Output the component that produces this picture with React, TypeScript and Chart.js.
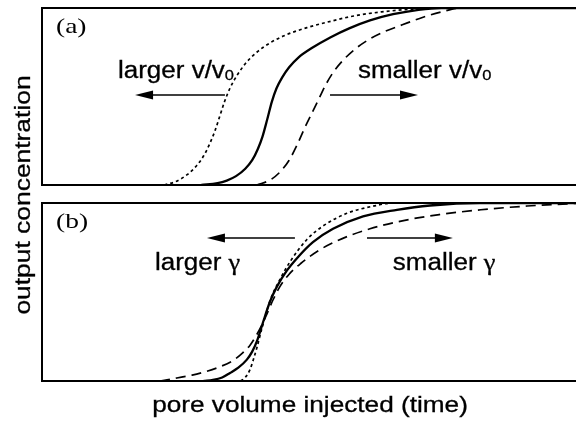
import { useEffect, useRef } from "react";
import { Chart, registerables } from "chart.js";

Chart.register(...registerables);

// pore volume injected (normalised time) and output concentration (normalised)
const X_MAX = 2.312;

// panel (a): varying v/v0
const aLargerX = [0.53, 0.58, 0.63, 0.67, 0.7, 0.725, 0.75, 0.77, 0.79, 0.815, 0.845, 0.88, 0.93, 0.99, 1.06, 1.15, 1.25, 1.35, 1.47, 1.6, 1.72, 2.312];
const aLargerY = [0, 0.02, 0.06, 0.11, 0.165, 0.23, 0.31, 0.39, 0.47, 0.55, 0.62, 0.685, 0.75, 0.805, 0.85, 0.89, 0.925, 0.955, 0.978, 0.993, 1.0, 1.0];
const aBaseX = [0.69, 0.76, 0.8, 0.84, 0.88, 0.91, 0.935, 0.955, 0.975, 0.995, 1.015, 1.04, 1.07, 1.11, 1.17, 1.25, 1.33, 1.42, 1.52, 1.63, 1.73, 2.312];
const aBaseY = [0, 0.01, 0.025, 0.05, 0.092, 0.14, 0.205, 0.275, 0.37, 0.47, 0.545, 0.608, 0.665, 0.72, 0.775, 0.835, 0.885, 0.93, 0.965, 0.99, 1.0, 1.0];
const aSmallerX = [0.93, 0.99, 1.03, 1.07, 1.104, 1.14, 1.17, 1.2, 1.23, 1.26, 1.3, 1.35, 1.41, 1.48, 1.56, 1.65, 1.73, 1.81, 2.312];
const aSmallerY = [0, 0.03, 0.073, 0.14, 0.225, 0.33, 0.41, 0.49, 0.57, 0.635, 0.7, 0.762, 0.818, 0.865, 0.905, 0.948, 0.978, 1.0, 1.0];

// panel (b): varying gamma
const bLargerX = [0.86, 0.88, 0.9, 0.915, 0.931, 0.952, 0.987, 1.03, 1.074, 1.147, 1.216, 1.32, 1.433, 1.52, 2.312];
const bLargerY = [0, 0.02, 0.062, 0.12, 0.19, 0.295, 0.45, 0.57, 0.67, 0.795, 0.87, 0.942, 0.982, 1.0, 1.0];
const bBaseX = [0.7, 0.74, 0.78, 0.814, 0.85, 0.887, 0.91, 0.931, 0.957, 0.987, 1.017, 1.06, 1.104, 1.173, 1.26, 1.39, 1.537, 1.68, 1.896, 2.312];
const bBaseY = [0, 0.006, 0.02, 0.045, 0.075, 0.12, 0.165, 0.225, 0.33, 0.445, 0.53, 0.62, 0.69, 0.78, 0.855, 0.925, 0.962, 0.986, 1.0, 1.0];
const bSmallerX = [0.511, 0.584, 0.65, 0.714, 0.77, 0.827, 0.87, 0.9, 0.925, 0.95, 0.975, 1.0, 1.03, 1.07, 1.12, 1.2, 1.3, 1.42, 1.56, 1.72, 1.9, 2.1, 2.312];
const bSmallerY = [0, 0.017, 0.033, 0.055, 0.08, 0.115, 0.16, 0.2, 0.25, 0.31, 0.38, 0.455, 0.53, 0.6, 0.66, 0.735, 0.8, 0.855, 0.9, 0.935, 0.962, 0.983, 0.998];

const zip = (xs: number[], ys: number[]) => xs.map((x, i) => ({ x, y: ys[i] }));

const SANS = '"Liberation Sans", Arial, sans-serif';
const SERIF = '"Liberation Serif", "Times New Roman", serif';

type Note = {
  panel: string;
  leftText: string; leftSub: string; rightText: string; rightSub: string; greek: boolean;
  leftTextX: number; rightTextX: number; textY: number;
  leftArrow: [number, number]; rightArrow: [number, number]; arrowY: number;
};

const notesA: Note = {
  panel: "(a)", leftText: "larger v/v", leftSub: "0", rightText: "smaller v/v", rightSub: "0", greek: false,
  leftTextX: 0.329, rightTextX: 1.368, textY: 0.605,
  leftArrow: [0.403, 0.792], rightArrow: [1.247, 1.628], arrowY: 0.508,
};
const notesB: Note = {
  panel: "(b)", leftText: "larger ", leftSub: "γ", rightText: "smaller ", rightSub: "γ", greek: true,
  leftTextX: 0.489, rightTextX: 1.519, textY: 0.624,
  leftArrow: [0.714, 1.095], rightArrow: [1.407, 1.779], arrowY: 0.803,
};

function stretchedText(ctx: CanvasRenderingContext2D, text: string, x: number, y: number, font: string, sx: number, weight = 0.3) {
  ctx.save();
  ctx.translate(x, y);
  ctx.scale(sx, 1);
  ctx.font = font;
  ctx.fillText(text, 0, 0);
  if (weight > 0) {
    ctx.lineWidth = weight;
    ctx.strokeStyle = "#000";
    ctx.strokeText(text, 0, 0);
  }
  const w = ctx.measureText(text).width * sx;
  ctx.restore();
  return w;
}

function arrow(ctx: CanvasRenderingContext2D, x0: number, x1: number, y: number, headLeft: boolean) {
  const hl = 18, hw = 4.5;
  ctx.save();
  ctx.strokeStyle = "#000";
  ctx.fillStyle = "#000";
  ctx.lineWidth = 1.5;
  ctx.beginPath();
  if (headLeft) {
    ctx.moveTo(x0 + hl - 2, y); ctx.lineTo(x1, y);
  } else {
    ctx.moveTo(x0, y); ctx.lineTo(x1 - hl + 2, y);
  }
  ctx.stroke();
  ctx.beginPath();
  if (headLeft) {
    ctx.moveTo(x0, y); ctx.lineTo(x0 + hl, y - hw); ctx.lineTo(x0 + hl, y + hw);
  } else {
    ctx.moveTo(x1, y); ctx.lineTo(x1 - hl, y - hw); ctx.lineTo(x1 - hl, y + hw);
  }
  ctx.closePath();
  ctx.fill();
  ctx.restore();
}

function makePlugin(note: Note, drawTitles: boolean) {
  return {
    id: "panelDecor",
    afterDraw(chart: any) {
      const ctx: CanvasRenderingContext2D = chart.ctx;
      const { left, top, right, bottom } = chart.chartArea;
      const xs = chart.scales.x, ys = chart.scales.y;
      ctx.save();
      // frame
      ctx.strokeStyle = "#000";
      ctx.lineWidth = 2;
      ctx.beginPath();
      ctx.moveTo(right + 2, top); ctx.lineTo(left, top); ctx.lineTo(left, bottom); ctx.lineTo(right + 2, bottom);
      ctx.stroke();
      ctx.fillStyle = "#000";
      ctx.textAlign = "left";
      ctx.textBaseline = "alphabetic";
      // panel label
      stretchedText(ctx, note.panel, left + 14, top + 25, `22px ${SERIF}`, 1.25, 0);
      // annotations
      const ty = ys.getPixelForValue(note.textY);
      const drawLabel = (txt: string, sub: string, xv: number) => {
        const x = xs.getPixelForValue(xv);
        const w = stretchedText(ctx, txt, x, ty, `23px ${SANS}`, 1.13);
        if (note.greek) {
          stretchedText(ctx, sub, x + w, ty, `24px ${SERIF}`, 1.1);
        } else {
          stretchedText(ctx, sub, x + w, ty + 2, `15px ${SANS}`, 1.1);
        }
      };
      drawLabel(note.leftText, note.leftSub, note.leftTextX);
      drawLabel(note.rightText, note.rightSub, note.rightTextX);
      const ay = ys.getPixelForValue(note.arrowY);
      arrow(ctx, xs.getPixelForValue(note.leftArrow[0]), xs.getPixelForValue(note.leftArrow[1]), ay, true);
      arrow(ctx, xs.getPixelForValue(note.rightArrow[0]), xs.getPixelForValue(note.rightArrow[1]), ay, false);
      if (drawTitles) {
        // x title
        ctx.save();
        ctx.translate(310, 412);
        ctx.scale(1.19, 1);
        ctx.font = `22px ${SANS}`;
        ctx.textAlign = "center";
        ctx.lineWidth = 0.3;
        ctx.fillText("pore volume injected (time)", 0, 0);
        ctx.strokeText("pore volume injected (time)", 0, 0);
        ctx.restore();
        // y title
        ctx.save();
        ctx.translate(24, 195);
        ctx.rotate(-Math.PI / 2);
        ctx.scale(1.2, 1);
        ctx.font = `22px ${SANS}`;
        ctx.textAlign = "center";
        ctx.textBaseline = "middle";
        ctx.lineWidth = 0.3;
        ctx.fillText("output concentration", 0, 0);
        ctx.strokeText("output concentration", 0, 0);
        ctx.restore();
      }
      ctx.restore();
    },
  };
}

function datasets(lx: number[], ly: number[], bx: number[], by: number[], sx: number[], sy: number[], names: string[]) {
  const common = { pointRadius: 0, borderColor: "#000", fill: false, cubicInterpolationMode: "monotone" as const };
  return [
    { ...common, label: names[0], data: zip(lx, ly), borderWidth: 1.7, borderDash: [3, 3] },
    { ...common, label: names[1], data: zip(bx, by), borderWidth: 2.3 },
    { ...common, label: names[2], data: zip(sx, sy), borderWidth: 1.7, borderDash: [10, 6] },
  ];
}

function makeOptions(padTop: number, padBottom: number) {
  return {
    responsive: false,
    animation: false as const,
    devicePixelRatio: 1,
    layout: { padding: { left: 42, top: padTop, right: 0, bottom: padBottom } },
    plugins: { legend: { display: false }, tooltip: { enabled: false }, title: { display: false } },
    scales: {
      x: { type: "linear" as const, min: 0, max: X_MAX, display: false },
      y: { type: "linear" as const, min: 0, max: 1, display: false },
    },
    events: [] as any[],
  };
}

export default function App() {
  const refA = useRef<HTMLCanvasElement>(null);
  const refB = useRef<HTMLCanvasElement>(null);
  useEffect(() => {
    document.body.style.margin = "0";
    const chartA = new Chart(refA.current!, {
      type: "line",
      data: { datasets: datasets(aLargerX, aLargerY, aBaseX, aBaseY, aSmallerX, aSmallerY, ["larger v/v0", "reference", "smaller v/v0"]) as any },
      options: makeOptions(8, 424 - 185) as any,
      plugins: [makePlugin(notesA, false)],
    });
    const chartB = new Chart(refB.current!, {
      type: "line",
      data: { datasets: datasets(bLargerX, bLargerY, bBaseX, bBaseY, bSmallerX, bSmallerY, ["larger γ", "reference", "smaller γ"]) as any },
      options: makeOptions(203, 424 - 381) as any,
      plugins: [makePlugin(notesB, true)],
    });
    return () => {
      chartA.destroy();
      chartB.destroy();
    };
  }, []);
  const cs: React.CSSProperties = { position: "absolute", left: 0, top: 0, width: 576, height: 424 };
  return (
    <div style={{ position: "fixed", left: 0, top: 0, width: 576, height: 424, background: "#fff", overflow: "hidden" }}>
      <canvas ref={refA} width={576} height={424} style={cs} />
      <canvas ref={refB} width={576} height={424} style={cs} />
    </div>
  );
}
